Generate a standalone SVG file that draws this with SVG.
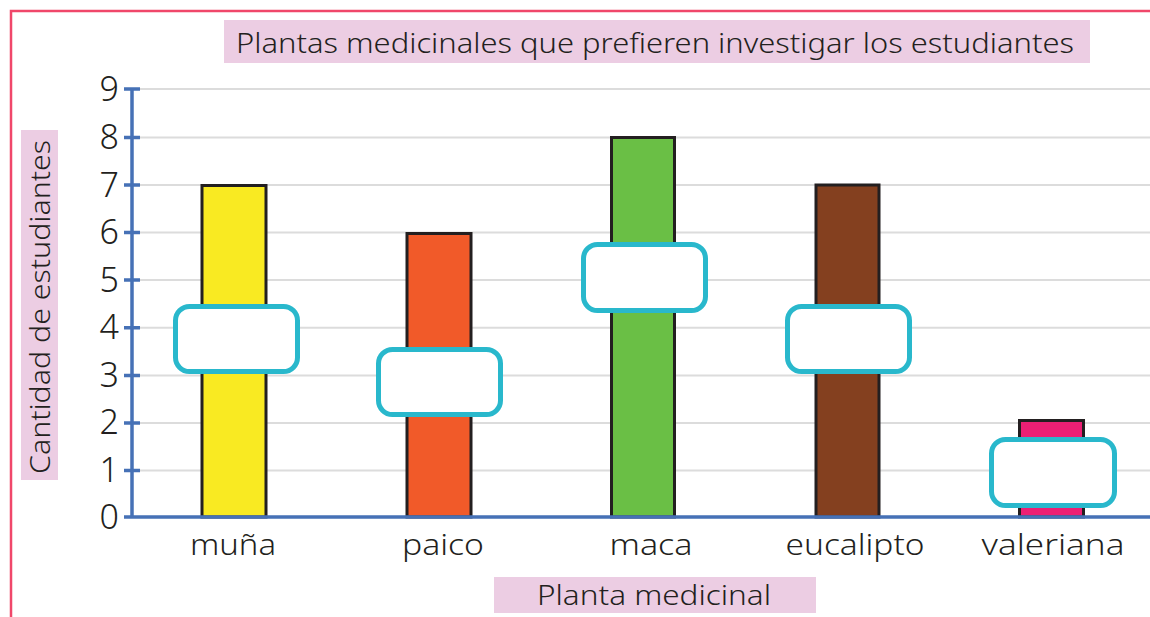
<svg xmlns="http://www.w3.org/2000/svg" width="1150" height="617" viewBox="0 0 1150 617">
<style>
text{font-family:"Noto Sans","Liberation Sans",sans-serif;fill:#231f20;font-weight:300}
.lbl{fill:#eccde3}
.grid{stroke:#dcdcdc;stroke-width:2}
.axis{stroke:#4671b6;stroke-width:3.5;fill:none}
.bar{stroke:#231f20;stroke-width:3}
.box{fill:#fff;stroke:#29b8cc;stroke-width:5}
.tick{font-size:34px;text-anchor:end}
.cat{font-size:30px;text-anchor:middle}
</style>
<rect x="0" y="0" width="1150" height="617" fill="#fff"/>
<path d="M11,617 V11 H1150" fill="none" stroke="#f0476a" stroke-width="2.5"/>
<g id="title"><rect class="lbl" x="224" y="20" width="866" height="43"/><text x="655" y="53" font-size="28" text-anchor="middle" textLength="838" lengthAdjust="spacingAndGlyphs">Plantas medicinales que prefieren investigar los estudiantes</text></g>
<g id="ylabel"><rect class="lbl" x="21" y="130" width="37" height="350"/><text transform="translate(50,307) rotate(-90)" font-size="28" text-anchor="middle" textLength="334" lengthAdjust="spacingAndGlyphs">Cantidad de estudiantes</text></g>
<g id="xlabel"><rect class="lbl" x="494" y="577" width="322" height="36"/><text x="654" y="605" font-size="28" text-anchor="middle" textLength="234" lengthAdjust="spacingAndGlyphs">Planta medicinal</text></g>
<g id="grid">
<line class="grid" x1="139" y1="89" x2="1150" y2="89"/>
<line class="grid" x1="139" y1="137.6" x2="1150" y2="137.6"/>
<line class="grid" x1="139" y1="185" x2="1150" y2="185"/>
<line class="grid" x1="139" y1="232.6" x2="1150" y2="232.6"/>
<line class="grid" x1="139" y1="280" x2="1150" y2="280"/>
<line class="grid" x1="139" y1="327.8" x2="1150" y2="327.8"/>
<line class="grid" x1="139" y1="375.4" x2="1150" y2="375.4"/>
<line class="grid" x1="139" y1="422.9" x2="1150" y2="422.9"/>
<line class="grid" x1="139" y1="470.4" x2="1150" y2="470.4"/>
</g>
<g id="bars">
<rect id="bar-muna" class="bar" x="202" y="185.5" width="64" height="331.5" fill="#f9ea22"/>
<rect id="bar-paico" class="bar" x="407" y="233.5" width="64" height="283.5" fill="#f15a29"/>
<rect id="bar-maca" class="bar" x="611.5" y="137.5" width="63" height="379.5" fill="#6abf45"/>
<rect id="bar-eucalipto" class="bar" x="816" y="185" width="63" height="332" fill="#84401f"/>
<rect id="bar-valeriana" class="bar" x="1019.5" y="420.5" width="64" height="96.5" fill="#ec1f74"/>
</g>
<g id="axes">
<path class="axis" d="M132,88 V517 M124,517 H1150"/>
<path class="axis" d="M124,89 H140 M124,137.6 H140 M124,185 H140 M124,232.6 H140 M124,280 H140 M124,327.8 H140 M124,375.4 H140 M124,422.9 H140 M124,470.4 H140"/>
</g>
<g id="yticks">
<text class="tick" x="119" y="101">9</text>
<text class="tick" x="119" y="149">8</text>
<text class="tick" x="119" y="197">7</text>
<text class="tick" x="119" y="244">6</text>
<text class="tick" x="119" y="292">5</text>
<text class="tick" x="119" y="339">4</text>
<text class="tick" x="119" y="387">3</text>
<text class="tick" x="119" y="434">2</text>
<text class="tick" x="119" y="482">1</text>
<text class="tick" x="119" y="529">0</text>
</g>
<g id="categories">
<text class="cat" x="233" y="555" textLength="86" lengthAdjust="spacingAndGlyphs">muña</text>
<text class="cat" x="443" y="555" textLength="82" lengthAdjust="spacingAndGlyphs">paico</text>
<text class="cat" x="651" y="555" textLength="83" lengthAdjust="spacingAndGlyphs">maca</text>
<text class="cat" x="855" y="555" textLength="139" lengthAdjust="spacingAndGlyphs">eucalipto</text>
<text class="cat" x="1053" y="555" textLength="143" lengthAdjust="spacingAndGlyphs">valeriana</text>
</g>
<g id="boxes">
<rect id="box-muna" class="box" x="175.5" y="306.5" width="122" height="65" rx="14"/>
<rect id="box-paico" class="box" x="378.5" y="349.5" width="122" height="65" rx="14"/>
<rect id="box-maca" class="box" x="583.5" y="244.5" width="122" height="66" rx="14"/>
<rect id="box-eucalipto" class="box" x="787.5" y="306.5" width="122" height="65" rx="14"/>
<rect id="box-valeriana" class="box" x="991.5" y="439.5" width="123" height="66" rx="14"/>
</g>
</svg>
